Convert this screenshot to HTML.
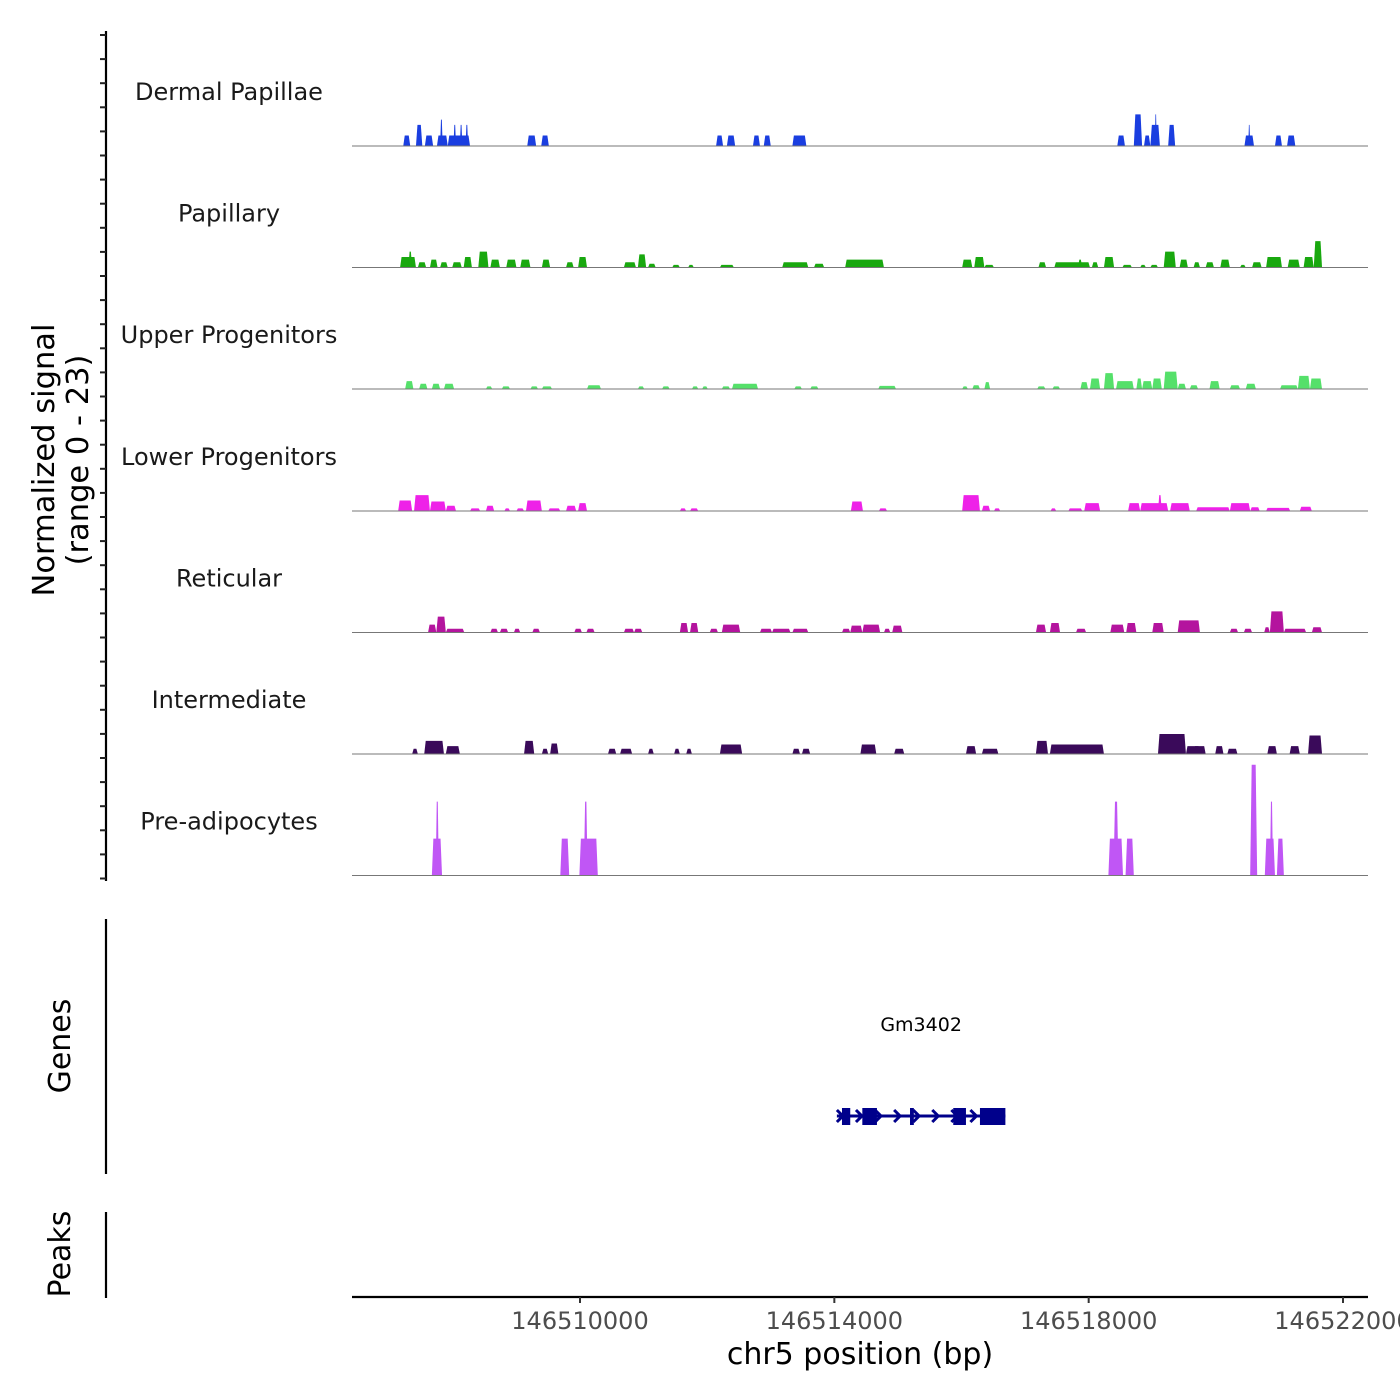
<!DOCTYPE html>
<html><head><meta charset="utf-8"><style>
body{margin:0;background:#fff}
svg{display:block;font-family:"DejaVu Sans","Liberation Sans",sans-serif}
</style></head><body>
<svg id="chart" width="1400" height="1400" viewBox="0 0 1400 1400"></svg>
<script>
// positions are kb offsets from chr5:146,500,000 ; [startKb, endKb, signal]
const regionStartKb = 146500;
const domainKb = [6.414, 22.393];
const xTicksBp = [146510000, 146514000, 146518000, 146522000];
const yRangeMax = 23;
const trackNames = ["Dermal Papillae","Papillary","Upper Progenitors","Lower Progenitors","Reticular","Intermediate","Pre-adipocytes"];
const trackColors = ["#1a3ee0","#19a80f","#55e06a","#ee22e8","#b4149e","#3a0a5a","#c056f5"];
const dermalPapillae = [[7.22,7.33,2],[7.42,7.52,4],[7.56,7.69,2],[7.75,7.92,2],[7.80,7.84,5],[7.92,8.27,2],[8.01,8.05,4],[8.11,8.15,4],[8.20,8.24,4],[9.17,9.31,2],[9.39,9.51,2],[12.14,12.25,2],[12.31,12.44,2],[12.72,12.83,2],[12.89,13.00,2],[13.34,13.56,2],[18.45,18.57,2],[18.71,18.84,6],[18.87,18.97,2],[18.97,19.12,4],[19.04,19.07,6],[19.25,19.36,4],[20.45,20.60,2],[20.51,20.54,4],[20.93,21.04,2],[21.12,21.25,2]];
const papillary = [[7.17,7.42,2],[7.30,7.36,3],[7.45,7.58,1],[7.64,7.76,1.5],[7.80,7.92,1],[7.99,8.14,1],[8.17,8.30,2],[8.40,8.56,3],[8.59,8.74,1.5],[8.84,9.00,1.5],[9.06,9.22,1.5],[9.40,9.53,1.5],[9.78,9.90,1],[9.97,10.11,2],[10.69,10.88,1],[10.91,11.04,2.5],[11.07,11.19,0.7],[11.45,11.57,0.5],[11.70,11.79,0.5],[12.20,12.42,0.5],[13.18,13.59,1],[13.68,13.84,0.7],[14.17,14.78,1.5],[16.01,16.17,1.5],[16.20,16.36,2],[16.36,16.51,0.5],[17.21,17.33,1],[17.46,18.02,1],[17.83,17.90,1.5],[18.05,18.15,1],[18.24,18.40,2],[18.53,18.68,0.5],[18.81,18.90,0.5],[18.97,19.09,0.5],[19.18,19.37,3],[19.43,19.56,1.5],[19.65,19.75,1],[19.84,19.97,1],[20.07,20.22,1.5],[20.38,20.47,0.5],[20.57,20.72,1],[20.79,21.04,2],[21.13,21.32,1.5],[21.38,21.54,2],[21.54,21.67,5]];
const upperProgenitors = [[7.25,7.38,1.5],[7.47,7.60,1],[7.67,7.80,1],[7.86,8.02,1],[8.52,8.62,0.5],[8.77,8.90,0.5],[9.22,9.34,0.5],[9.40,9.56,0.5],[10.11,10.33,0.7],[10.91,11.01,0.5],[11.29,11.41,0.5],[11.76,11.86,0.5],[11.92,12.01,0.5],[12.23,12.36,0.5],[12.39,12.80,1],[13.37,13.49,0.5],[13.62,13.75,0.5],[14.69,14.97,0.6],[16.01,16.10,0.5],[16.17,16.29,0.7],[16.36,16.45,1.3],[17.19,17.32,0.5],[17.43,17.55,0.5],[17.87,17.99,1.3],[18.02,18.18,2],[18.24,18.40,3],[18.43,18.71,1.5],[18.75,18.84,2],[18.84,19.00,1.5],[19.00,19.15,2],[19.18,19.40,3.3],[19.40,19.53,1],[19.59,19.72,0.7],[19.90,20.06,1.5],[20.22,20.38,0.7],[20.47,20.63,1],[21.01,21.29,0.7],[21.29,21.48,2.5],[21.48,21.67,2]];
const lowerProgenitors = [[7.14,7.36,2],[7.39,7.64,3],[7.64,7.89,1.8],[7.89,8.05,1],[8.27,8.43,0.5],[8.52,8.65,1],[8.81,8.90,0.5],[9.00,9.12,0.5],[9.15,9.40,2],[9.50,9.69,0.5],[9.78,9.94,1],[9.97,10.11,1.5],[11.57,11.67,0.5],[11.73,11.86,0.5],[14.26,14.45,1.8],[14.70,14.83,0.5],[16.01,16.29,3],[16.32,16.45,1],[16.51,16.61,0.5],[17.40,17.49,0.5],[17.68,17.90,0.5],[17.93,18.18,1.5],[18.62,18.81,1.5],[18.81,19.25,1.5],[19.09,19.15,3],[19.28,19.59,1.5],[19.69,20.22,0.7],[20.22,20.54,1.5],[20.54,20.69,0.7],[20.79,21.17,0.6],[21.32,21.51,0.8]];
const reticular = [[7.61,7.74,1.5],[7.74,7.89,3],[7.89,8.18,0.7],[8.59,8.71,0.7],[8.74,8.87,0.7],[8.96,9.06,0.7],[9.25,9.37,0.7],[9.91,10.03,0.7],[10.10,10.23,0.7],[10.69,10.85,0.7],[10.85,10.98,0.7],[11.57,11.70,1.8],[11.73,11.86,1.8],[12.04,12.17,0.7],[12.23,12.52,1.5],[12.83,13.02,0.7],[13.02,13.31,0.7],[13.34,13.59,0.7],[14.12,14.25,0.7],[14.25,14.44,1.3],[14.44,14.72,1.5],[14.78,14.88,0.7],[14.91,15.07,1.3],[17.17,17.33,1.5],[17.39,17.55,1.8],[17.80,17.96,0.7],[18.34,18.56,1.5],[18.59,18.75,1.8],[19.00,19.18,1.8],[19.40,19.75,2.3],[20.22,20.35,0.7],[20.44,20.57,0.7],[20.76,20.85,1],[20.85,21.07,4],[21.07,21.42,0.7],[21.51,21.67,1]];
const intermediate = [[7.36,7.45,1],[7.55,7.86,2.5],[7.89,8.11,1.5],[9.12,9.28,2.5],[9.40,9.50,1],[9.53,9.66,2],[10.44,10.57,1],[10.63,10.82,1],[11.07,11.16,1],[11.48,11.57,1],[11.67,11.76,1],[12.20,12.55,1.8],[13.34,13.46,1],[13.49,13.62,1],[14.41,14.66,1.8],[14.94,15.10,1],[16.07,16.23,1.5],[16.32,16.58,1],[17.17,17.36,2.5],[17.39,18.24,1.8],[19.65,19.84,1.5],[19.09,19.53,3.8],[19.53,19.75,1.5],[19.99,20.12,1.5],[20.18,20.34,1],[20.81,20.96,1.5],[21.16,21.32,1.5],[21.45,21.67,3.5]];
const preAdipocytes = [[7.67,7.83,7],[7.73,7.78,14],[9.69,9.83,7],[9.99,10.28,7],[10.06,10.12,14],[18.31,18.54,7],[18.39,18.47,14],[18.58,18.71,7],[20.54,20.65,21],[20.77,20.93,7],[20.85,20.90,14],[20.96,21.07,7]];
const trackData = [dermalPapillae,papillary,upperProgenitors,lowerProgenitors,reticular,intermediate,preAdipocytes];
const geneName = "Gm3402";
const geneSpanKb = [14.04, 16.69];
const geneExonsKb = [[14.12,14.25],[14.44,14.67],[15.19,15.25],[15.87,16.07],[16.29,16.69]];

const svg = document.getElementById('chart');
const NS = "http://www.w3.org/2000/svg";
function mk(tag, attrs, parent){const e=document.createElementNS(NS,tag);for(const k in attrs)e.setAttribute(k,attrs[k]);(parent||svg).appendChild(e);return e;}
const X0=352, X1=1368;
function xScale(kb){return X0+(kb-domainKb[0])/(domainKb[1]-domainKb[0])*(X1-X0);}
const baselines=[146,267.5,389,511,632.5,754,875.5];
const trackH=121.3;
function yScale(i,v){return baselines[i]-v/yRangeMax*trackH;}

let ax=mk('line',{x1:106,y1:31,x2:106,y2:881,stroke:'#000','stroke-width':2.2});


for(let k=0;k<36;k++){const y=35+k*24.1;let t=mk('line',{x1:100,y1:y,x2:106,y2:y,stroke:'#222','stroke-width':2});

}
let yt=mk('text',{transform:'translate(54,460) rotate(-90)','text-anchor':'middle','font-size':30.5,fill:'#000'});


yt.innerHTML='<tspan x="0" dy="0">Normalized signal</tspan><tspan x="0" dy="34">(range 0 - 23)</tspan>';

trackData.forEach((peaks,i)=>{
  const g=mk('g',{});
  
  
  let lab=mk('text',{x:229,y:baselines[i]-46,'text-anchor':'middle','font-size':24,fill:'#1a1a1a'},g);
  lab.textContent=trackNames[i];
  
  
  peaks.forEach(p=>{
    const a=xScale(p[0]),b=xScale(p[1]),yb=baselines[i],yt2=yScale(i,p[2]);
    const s=Math.min(1.5,(b-a)/3);
    let pth=mk('path',{d:`M${a},${yb}L${a+s},${yt2}L${b-s},${yt2}L${b},${yb}Z`,fill:trackColors[i]},g);
    
    
  });
  let bl=mk('line',{x1:X0,y1:baselines[i],x2:X1,y2:baselines[i],stroke:'#777','stroke-width':1},g);
  
  
});

let ga=mk('line',{x1:106,y1:919,x2:106,y2:1174,stroke:'#000','stroke-width':2.2});


let gt=mk('text',{transform:'translate(70,1046) rotate(-90)','text-anchor':'middle','font-size':30,fill:'#000'});
gt.textContent='Genes';


const gg=mk('g',{});


let gl=mk('text',{x:(xScale(geneSpanKb[0])+xScale(geneSpanKb[1]))/2,y:1031,'text-anchor':'middle','font-size':19,fill:'#000'},gg);
gl.textContent=geneName;


let gline=mk('line',{x1:xScale(geneSpanKb[0]),y1:1116,x2:xScale(geneSpanKb[1]),y2:1116,stroke:'#00008b','stroke-width':3},gg);


for(let kb=geneSpanKb[0];kb<geneSpanKb[1];kb+=0.3){const x=xScale(kb);
  let ch=mk('path',{d:`M${x},1110L${x+6},1116L${x},1122`,fill:'none',stroke:'#00008b','stroke-width':3},gg);
  
  }
geneExonsKb.forEach(e=>{const a=xScale(e[0]),b=xScale(e[1]);
  let r=mk('rect',{x:a,y:1108,width:b-a,height:17,fill:'#00008b'},gg);
  
  });

let pa=mk('line',{x1:106,y1:1212,x2:106,y2:1298,stroke:'#000','stroke-width':2.2});


let pt=mk('text',{transform:'translate(70,1254) rotate(-90)','text-anchor':'middle','font-size':30,fill:'#000'});
pt.textContent='Peaks';



let xa=mk('line',{x1:X0,y1:1297,x2:X1,y2:1297,stroke:'#000','stroke-width':2.2});


xTicksBp.forEach(bp=>{const x=xScale(bp/1000-regionStartKb);
  let t=mk('line',{x1:x,y1:1297,x2:x,y2:1303,stroke:'#333','stroke-width':2});
  
  
  let l=mk('text',{x:x,y:1329,'text-anchor':'middle','font-size':24,fill:'#4d4d4d'});
  l.textContent=String(bp);
  
  });
let xt=mk('text',{x:860,y:1364,'text-anchor':'middle','font-size':30,fill:'#000'});
xt.textContent='chr5 position (bp)';


</script>
</body></html>
